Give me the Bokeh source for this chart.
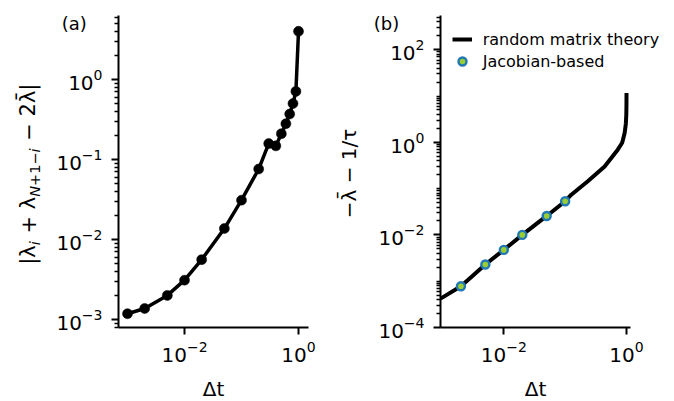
from bokeh.plotting import figure
from bokeh.layouts import row, column
from bokeh.models import Range1d, FixedTicker, Label, Legend, LegendItem
from bokeh.embed import file_html
from bokeh.resources import INLINE

# ---------------- data ----------------
# panel (a)
dt_a = [1e-3, 2e-3, 5e-3, 1e-2, 2e-2, 5e-2, 0.1, 0.2, 0.3, 0.4, 0.5, 0.6, 0.7, 0.8, 0.9, 1.0]
dev_a = [1.18e-3, 1.37e-3, 2.0e-3, 3.1e-3, 5.6e-3, 1.37e-2, 3.1e-2, 7.6e-2,
         0.158, 0.148, 0.21, 0.28, 0.37, 0.50, 0.71, 4.0]

# panel (b): random matrix theory curve
dt_rmt = [9.3e-4, 2e-3, 5e-3, 1e-2, 2e-2, 5e-2, 0.1, 0.126, 0.234, 0.44, 0.72,
          0.85, 0.933, 0.975, 0.993, 0.999, 1.0]
rmt = [4.2e-4, 7.8e-4, 2.3e-3, 4.75e-3, 1.0e-2, 2.57e-2, 5.35e-2, 0.074, 0.144,
       0.30, 0.695, 0.98, 1.6, 2.5, 4.0, 7.0, 11.7]

# panel (b): Jacobian-based points
dt_jac = [2e-3, 5e-3, 1e-2, 2e-2, 5e-2, 0.1]
jac = [7.8e-4, 2.3e-3, 4.75e-3, 1.0e-2, 2.57e-2, 5.35e-2]

legend_labels = ["random matrix theory", "Jacobian-based"]
panel_labels = ["(a)", "(b)"]
x_label = "Δt"
y_label_b = "−λ̄ − 1/τ"

x_major = [1e-2, 1e0]
ya_major = [1e-3, 1e-2, 1e-1, 1e0]
yb_major = [1e-4, 1e-2, 1e0, 1e2]

FONT = "DejaVu Sans"
BLUE = "#1f77b4"
GREEN = "#9acd32"
W, H = 674, 401


def minors(lo, hi, majors, e0, e1):
    out = []
    for e in range(e0, e1 + 1):
        for m in range(1, 10):
            v = m * 10.0 ** e
            if lo <= v <= hi and all(abs(v - M) / M > 1e-9 for M in majors):
                out.append(v)
    return out


def make_fig(xr, yr, ymajor, ymin_e, ymax_e, bl, br):
    p = figure(x_axis_type="log", y_axis_type="log",
               frame_width=190, frame_height=312,
               min_border_left=bl, min_border_right=br,
               min_border_top=15, min_border_bottom=74,
               x_range=Range1d(*xr), y_range=Range1d(*yr),
               output_backend="svg", toolbar_location=None)
    p.outline_line_color = None
    p.xgrid.visible = False
    p.ygrid.visible = False
    p.background_fill_color = "white"
    p.border_fill_color = "white"
    p.xaxis.ticker = FixedTicker(ticks=x_major, minor_ticks=[])
    p.yaxis.ticker = FixedTicker(ticks=ymajor,
                                 minor_ticks=minors(yr[0], yr[1], ymajor, ymin_e, ymax_e))
    for ax in (p.xaxis[0], p.yaxis[0]):
        ax.axis_line_color = "black"
        ax.axis_line_width = 2
        ax.major_tick_line_color = "black"
        ax.major_tick_line_width = 2
        ax.minor_tick_line_color = "black"
        ax.minor_tick_line_width = 1.5
        ax.major_tick_in = 0
        ax.major_tick_out = 7
        ax.minor_tick_in = 0
        ax.minor_tick_out = 4
        ax.major_label_text_font = FONT
        ax.major_label_text_font_size = "20px"
        ax.major_label_text_color = "black"
        ax.major_label_standoff = 6
        ax.axis_label_text_font = FONT
        ax.axis_label_text_font_size = "20px"
        ax.axis_label_text_font_style = "normal"
        ax.axis_label_text_color = "black"
    p.yaxis.major_label_standoff = 9
    p.xaxis.axis_label = x_label
    p.xaxis.axis_label_standoff = 12
    return p


# ---------------- panel (a) ----------------
pa = make_fig((6.95e-4, 1.497), (7.94e-4, 6.31), ya_major, -4, 0, 118, 29)
pa.line(dt_a, dev_a, line_color="black", line_width=3.5)
pa.scatter(dt_a, dev_a, size=10, fill_color="black", line_color="black", line_width=0.5)

# ---------------- panel (b) ----------------
pb = make_fig((9.29e-4, 1.162), (1e-4, 550), yb_major, -4, 2, 103, 44)
r_line = pb.line(dt_rmt, rmt, line_color="black", line_width=4)
r_pts = pb.scatter(dt_jac, jac, size=8, fill_color=GREEN, line_color=BLUE, line_width=2.4)

# ---------------- transparent overlay for texts outside the frames ----------------
ov = figure(frame_width=W, frame_height=H, x_range=Range1d(0, W), y_range=Range1d(0, H),
            min_border=0, min_border_left=0, min_border_right=0, min_border_top=0,
            min_border_bottom=0, title=None, x_axis_location=None, y_axis_location=None,
            output_backend="svg", toolbar_location=None)
ov.xgrid.visible = False
ov.ygrid.visible = False
ov.outline_line_color = None
ov.background_fill_color = None
ov.border_fill_color = None
ov.margin = (-H, 0, 0, 0)

# panel letters (page coordinates converted: Y = H - y)
for txt, px in zip(panel_labels, [61.3, 373.3]):
    ov.add_layout(Label(x=px, y=H - 20.5, text=txt, text_font=FONT, text_font_size="18px",
                        text_color="black", text_baseline="middle"))

# y label of (b)
ov.add_layout(Label(x=348, y=H - 171, text=y_label_b, angle=1.5707963, text_font=FONT,
                    text_font_size="20px", text_color="black", text_baseline="middle",
                    text_align="center"))

# composite rotated y label of (a): |λ_i + λ_{N+1−i} − 2λ̄|
adv = {"|": 690, "λ": 1212, "+": 1716, "−": 1716, "2": 1303, "i": 569,
       "N": 1532, "1": 1303}
MAIN, SUB = 21.0, 14.5
GAP = 6.7
pieces = [("|λ", MAIN, "normal", 0), ("i", SUB, "italic", GAP + 1), ("+", MAIN, "normal", GAP),
          ("λ", MAIN, "normal", 0), ("N", SUB, "italic", 0), ("+1−", SUB, "normal", 0),
          ("i", SUB, "italic", GAP + 1), ("−", MAIN, "normal", GAP),
          ("2λ̄|", MAIN, "normal", 0)]


def width(s, fs):
    return sum(adv.get(c, 0) for c in s) / 2048.0 * fs


total = sum(width(s, fs) + g for s, fs, _, g in pieces)
pos = (H - 171.7) - total / 2
for s, fs, st, g in pieces:
    xm = 27.7 if fs == MAIN else 34.4
    ov.add_layout(Label(x=xm, y=pos, text=s, angle=1.5707963, text_font=FONT,
                        text_font_size=f"{fs}px", text_font_style=st, text_color="black",
                        text_baseline="middle", text_align="left"))
    pos += width(s, fs) + g

# legend of (b), drawn on the overlay so it may extend past the frame
# (dummy renderers sit outside the overlay frame; only their legend glyphs show)
l_line = ov.line([-50, -40], [-50, -50], line_color="black", line_width=4)
l_pts = ov.scatter([-50], [-50], size=8, fill_color=GREEN, line_color=BLUE, line_width=2.4)
leg = Legend(items=[LegendItem(label=legend_labels[0], renderers=[l_line]),
                    LegendItem(label=legend_labels[1], renderers=[l_pts])],
             location=(451.7, H - 69.3), margin=0, padding=0, spacing=2,
             glyph_width=20, glyph_height=20, label_height=20, label_standoff=11,
             label_text_font=FONT, label_text_font_size="16px", label_text_color="black",
             border_line_color=None, background_fill_alpha=0)
ov.add_layout(leg)

layout = column(row(pa, pb), ov)
open("out.html", "w").write(file_html(layout, INLINE))
